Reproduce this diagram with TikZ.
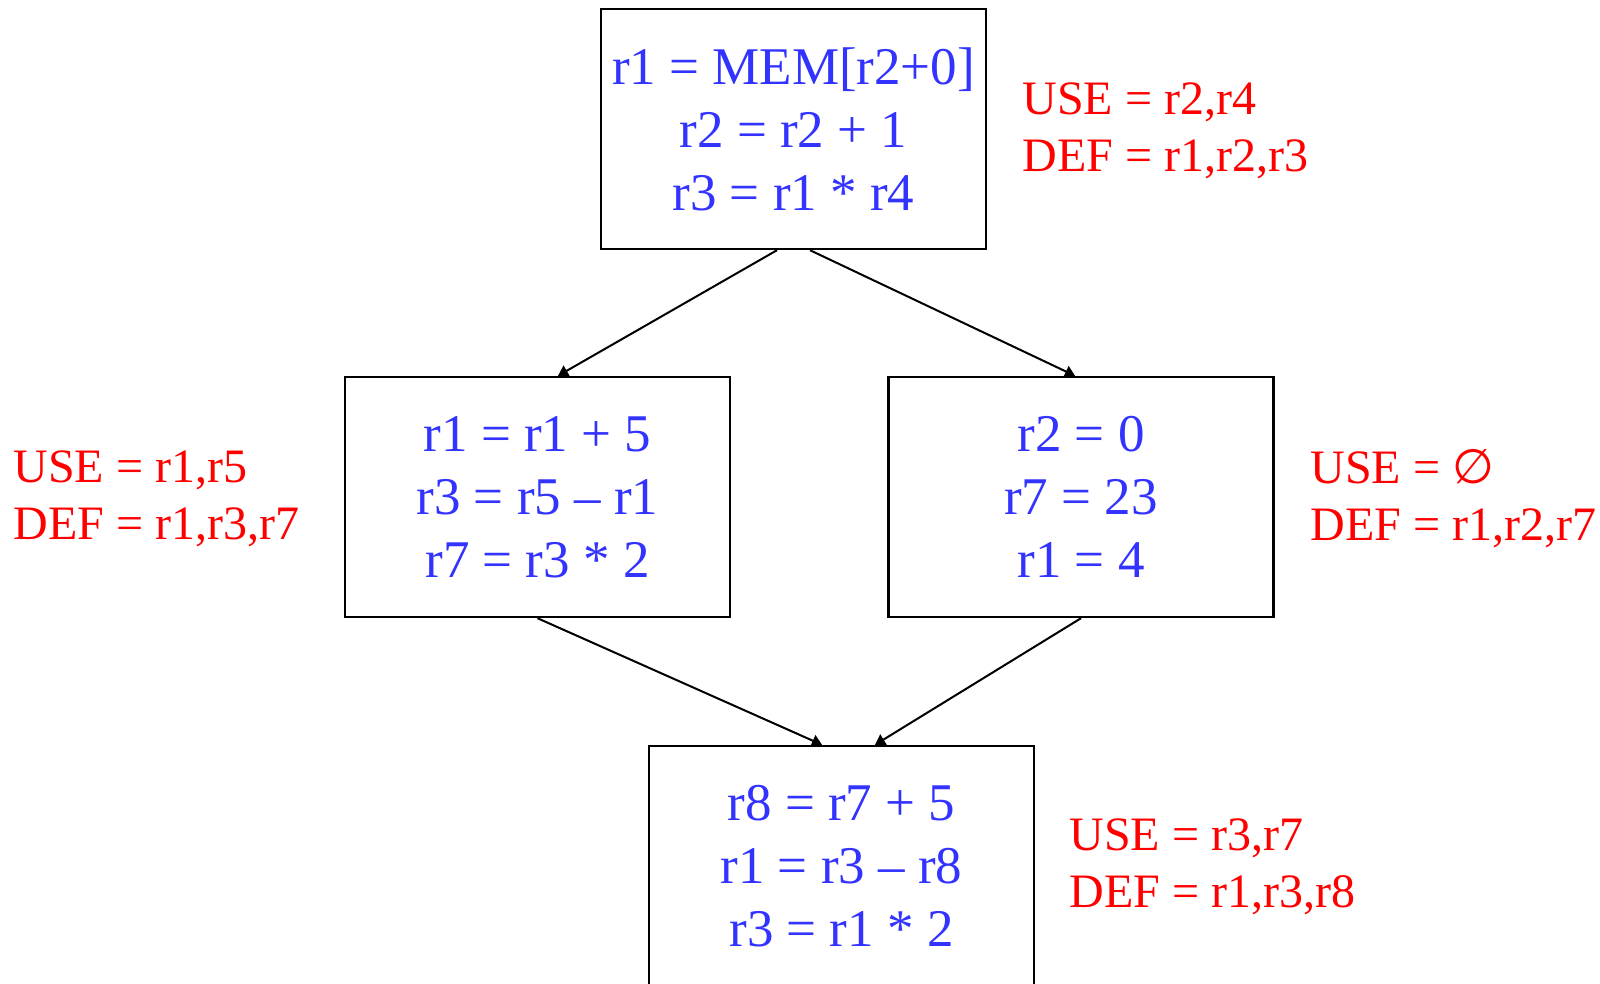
\documentclass[tikz,border=0pt]{standalone}
\usepackage{fontspec}
\setmainfont{Liberation Serif}
\newfontfamily\djv{DejaVu Sans}
\usetikzlibrary{arrows.meta}
\definecolor{codeblue}{RGB}{51,51,255}
\definecolor{defred}{RGB}{255,0,0}
\tikzset{
  blockbox/.style={draw=black, line width=1.2pt, minimum width=192.5pt, minimum height=120pt,
    inner sep=0pt, align=center, text=codeblue,
    font=\fontsize{26.5pt}{31.5pt}\selectfont},
  setlabel/.style={anchor=west, inner sep=0pt, align=left, text=defred,
    font=\fontsize{24pt}{28.5pt}\selectfont},
  flow/.style={draw=black, line width=1pt, -{Triangle[length=5pt,width=6pt]}}
}
\begin{document}
\begin{tikzpicture}[x=0.5pt,y=-0.5pt]
\useasboundingbox (0,0) rectangle (1600,984);
\clip (0,0) rectangle (1600,984);
\fill[white] (0,0) rectangle (1600,984);

\node[blockbox] (top) at (793.5,129) {r1 = MEM[r2+0]\\r2 = r2 + 1\\r3 = r1 * r4};
\node[blockbox] (left) at (537.5,497) {r1 = r1 + 5\\r3 = r5 \textendash{} r1\\r7 = r3 * 2};
\node[blockbox] (right) at (1081,497) {r2 = 0\\r7 = 23\\r1 = 4};
\node[blockbox] (bottom) at (841.5,866) {r8 = r7 + 5\\r1 = r3 \textendash{} r8\\r3 = r1 * 2};

\node[setlabel] (ltop) at (1022,131) {USE = r2,r4\\DEF = r1,r2,r3};
\node[setlabel] (lleft) at (13,499) {USE = r1,r5\\DEF = r1,r3,r7};
\node[setlabel] (lright) at (1310,499) {USE = {\djv ∅}\\DEF = r1,r2,r7};
\node[setlabel] (lbottom) at (1069,867) {USE = r3,r7\\DEF = r1,r3,r8};

\draw[flow] ([xshift=-8.25pt]top.south) -- ([xshift=10.25pt]left.north);
\draw[flow] ([xshift=8.25pt]top.south) -- ([xshift=-3pt]right.north);
\draw[flow] (left.south) -- ([xshift=-9.75pt]bottom.north);
\draw[flow] (right.south) -- ([xshift=16.75pt]bottom.north);
\end{tikzpicture}
\end{document}
